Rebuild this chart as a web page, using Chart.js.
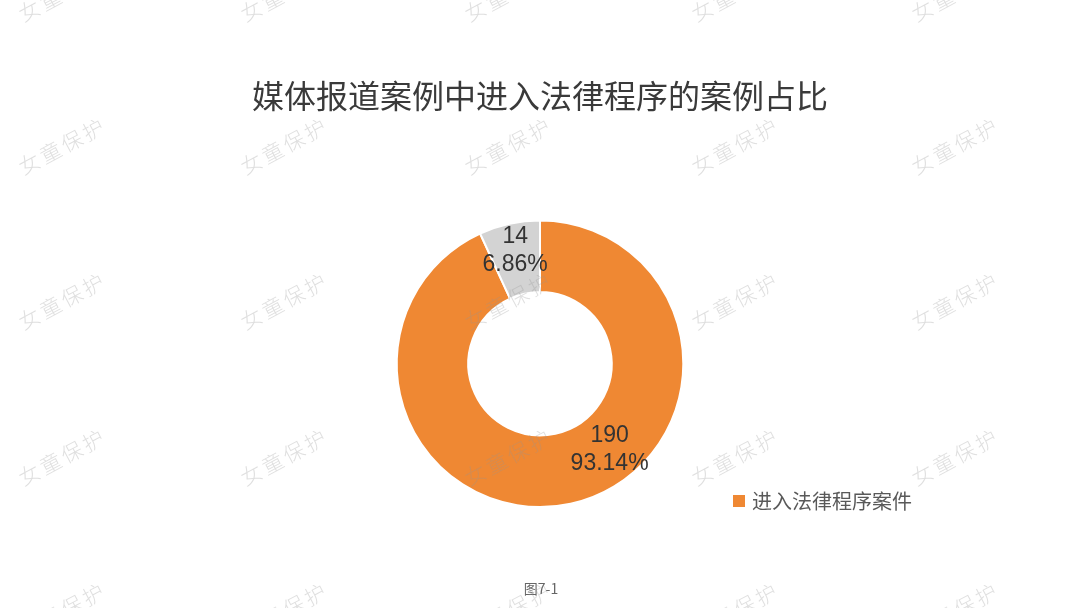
<!DOCTYPE html>
<html>
<head>
<meta charset="utf-8">
<script src="https://cdn.jsdelivr.net/npm/chart.js@4/dist/chart.umd.min.js"></script>
<style>
  body { margin: 0; background: #fff; }
  #wrap { position: relative; width: 1080px; height: 608px; overflow: hidden; }
  #legend {
    position: absolute; left: 733px; top: 486px;
    font: 20px "Noto Sans CJK SC", sans-serif; color: #595959;
    display: flex; align-items: center;
  }
  #legend .box { width: 12px; height: 12px; margin-right: 7px; }
  #caption {
    position: absolute; left: 0; width: 1082px; top: 578px; text-align: center;
    font: 14px "Noto Sans CJK SC", sans-serif; color: #666;
  }
  #marks { position: absolute; left: 0; top: 0; width: 1080px; height: 608px; pointer-events: none; }
  #marks span {
    position: absolute; width: 120px; margin-left: -60px; text-align: center;
    font: 200 21px "Noto Sans CJK SC", sans-serif; color: rgba(150, 150, 150, 0.3);
    letter-spacing: 3px; transform: rotate(-28deg); line-height: 24px; margin-top: -12px;
  }
</style>
</head>
<body>
<div id="wrap">
  <canvas id="pieChart" width="1080" height="608"></canvas>
  <div id="legend"></div>
  <div id="caption">图7-1</div>
  <div id="marks"></div>
</div>
<script>
const labels = ["进入法律程序案件", "未进入法律程序案件"];
const caseCounts = [190, 14];
const casePercents = ["93.14%", "6.86%"];
const sliceColors = ["#EF8833", "#D3D3D3"];

// watermark grid
const markCols = [62, 284, 508, 735, 955];
const markRows = [-8, 145, 300, 456, 610];
const marks = document.getElementById("marks");
markRows.forEach((y) => {
  markCols.forEach((x) => {
    const s = document.createElement("span");
    s.textContent = "女童保护";
    s.style.left = x + "px";
    s.style.top = y + "px";
    marks.appendChild(s);
  });
});

// value labels drawn on top of each slice
const sliceLabels = {
  id: "sliceLabels",
  afterDatasetsDraw(chart, args, opts) {
    const ctx = chart.ctx;
    const meta = chart.getDatasetMeta(0);
    ctx.save();
    ctx.font = '23px "Liberation Sans", Arial, sans-serif';
    ctx.fillStyle = "#333";
    ctx.textAlign = "center";
    ctx.textBaseline = "middle";
    meta.data.forEach((arc, i) => {
      const p = arc.getProps(["x", "y", "startAngle", "endAngle", "outerRadius"], true);
      const ang = opts.angles[i] != null ? (opts.angles[i] * Math.PI) / 180 : (p.startAngle + p.endAngle) / 2;
      const r = p.outerRadius * opts.radii[i];
      const cx = p.x + Math.cos(ang) * r;
      const cy = p.y + Math.sin(ang) * r;
      ctx.fillText(String(caseCounts[i]), cx, cy - 14);
      ctx.fillText(casePercents[i], cx, cy + 14);
    });
    ctx.restore();
  },
};

const pieCtx = document.getElementById("pieChart").getContext("2d");

const pieChart = new Chart(pieCtx, {
  type: "doughnut",
  data: {
    labels: labels,
    datasets: [
      {
        data: caseCounts,
        backgroundColor: sliceColors,
        borderColor: "#fff",
        borderWidth: 2,
      },
    ],
  },
  options: {
    responsive: false,
    animation: false,
    cutout: "50%",
    layout: {
      padding: { top: 0, bottom: 100, left: 0, right: 0 },
    },
    plugins: {
      legend: { display: false },
      tooltip: { enabled: false },
      title: {
        display: true,
        text: "媒体报道案例中进入法律程序的案例占比",
        color: "#3a3a3a",
        font: { family: '"Noto Sans CJK SC", sans-serif', size: 32, weight: "normal", lineHeight: 1.2 },
        padding: { top: 77, bottom: 104 },
      },
      sliceLabels: {
        angles: [50.9, null],
        radii: [0.77, 0.81],
      },
    },
  },
  plugins: [sliceLabels],
});

// legend only shows the first category, like the original
const legend = document.getElementById("legend");
const box = document.createElement("span");
box.className = "box";
box.style.background = sliceColors[0];
const txt = document.createElement("span");
txt.textContent = pieChart.data.labels[0];
legend.appendChild(box);
legend.appendChild(txt);
</script>
</body>
</html>
